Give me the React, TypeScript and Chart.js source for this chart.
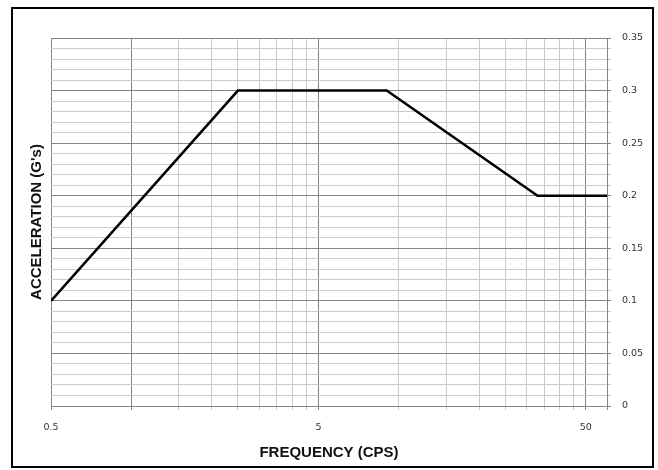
import React, { useEffect, useRef } from "react";
import { Chart, registerables } from "chart.js";

Chart.register(...registerables);

// Data
const frequency = [0.5, 2.5, 9, 33, 60];
const acceleration = [0.1, 0.3, 0.3, 0.2, 0.2];

// Axes
const xMin = 0.5;
const xMax = 60;
const xGridValues = [0.5, 1, 1.5, 2, 2.5, 3, 3.5, 4, 4.5, 5, 10, 15, 20, 25, 30, 35, 40, 45, 50, 60];
const xLabelValues = [0.5, 5, 50];
const xDarkLines = [0.5, 1, 5, 50, 60];
const yMin = 0;
const yMax = 0.35;
const yStep = 0.01;
const yLabelStep = 0.05;

const xTitle = "FREQUENCY (CPS)";
const yTitle = "ACCELERATION (G's)";

const DARK = "#858585";
const LIGHT = "#cbcbcb";
const TICK_FONT = { family: "DejaVu Sans", size: 9.5 };
const TITLE_FONT = { family: "Liberation Sans", size: 15, weight: "bold" as const };

const isYMajor = (v: number) => Math.round(v * 100) % Math.round(yLabelStep * 100) === 0;

const borderPlugin = {
  id: "outerBorder",
  afterDraw(chart: any) {
    const ctx = chart.ctx;
    ctx.save();
    ctx.strokeStyle = "#000";
    ctx.lineWidth = 2;
    ctx.strokeRect(12, 8, 641, 459);
    ctx.restore();
  },
};

export default function App() {
  const ref = useRef<HTMLCanvasElement | null>(null);

  useEffect(() => {
    if (!ref.current) return;
    const chart = new Chart(ref.current, {
      type: "line",
      data: {
        datasets: [
          {
            data: frequency.map((f, i) => ({ x: f, y: acceleration[i] })),
            borderColor: "#000",
            borderWidth: 2.5,
            pointRadius: 0,
            tension: 0,
            fill: false,
            xAxisID: "x",
            yAxisID: "y",
          },
        ],
      },
      options: {
        responsive: false,
        animation: false,
        events: [],
        layout: { padding: { left: 28, right: 0, top: 38, bottom: 8 } },
        plugins: { legend: { display: false }, tooltip: { enabled: false } },
        scales: {
          x: {
            type: "logarithmic",
            position: "bottom",
            min: xMin,
            max: xMax,
            afterBuildTicks: (scale: any) => {
              scale.ticks = xGridValues.map((v) => ({ value: v }));
            },
            afterFit: (scale: any) => {
              scale.height = 56;
            },
            ticks: {
              autoSkip: false,
              maxRotation: 0,
              padding: 12,
              color: "#333",
              font: TICK_FONT,
              callback: (value: any) => (xLabelValues.includes(Number(value)) ? String(value) : ""),
            },
            grid: {
              color: (c: any) => (xDarkLines.includes(c.tick?.value) ? DARK : LIGHT),
              lineWidth: 1,
              tickLength: 4,
              drawTicks: true,
            },
            border: { display: true, color: DARK, width: 1 },
            title: {
              display: true,
              text: xTitle,
              font: TITLE_FONT,
              color: "#111",
              padding: 0,
            },
          },
          y: {
            type: "linear",
            position: "right",
            min: yMin,
            max: yMax,
            afterFit: (scale: any) => {
              scale.width = 51;
            },
            ticks: {
              stepSize: yStep,
              autoSkip: false,
              padding: 11,
              color: "#333",
              font: TICK_FONT,
              callback: (value: any) => {
                const v = Number(value);
                return isYMajor(v) ? String(Math.round(v * 100) / 100) : "";
              },
            },
            grid: {
              color: (c: any) => (isYMajor(c.tick?.value ?? 0) ? DARK : LIGHT),
              lineWidth: 1,
              tickLength: 4,
              drawTicks: true,
            },
            border: { display: true, color: DARK, width: 1 },
          },
          yLeft: {
            type: "linear",
            position: "left",
            min: yMin,
            max: yMax,
            afterFit: (scale: any) => {
              scale.width = 23;
            },
            ticks: { display: false },
            grid: { display: false, drawTicks: false },
            border: { display: false },
            title: {
              display: true,
              text: yTitle,
              font: TITLE_FONT,
              color: "#111",
              padding: 0,
            },
          },
        },
      },
      plugins: [borderPlugin],
    } as any);
    return () => chart.destroy();
  }, []);

  return (
    <div style={{ position: "fixed", left: 0, top: 0, width: 658, height: 470, background: "#fff" }}>
      <canvas ref={ref} width={658} height={470} />
    </div>
  );
}
